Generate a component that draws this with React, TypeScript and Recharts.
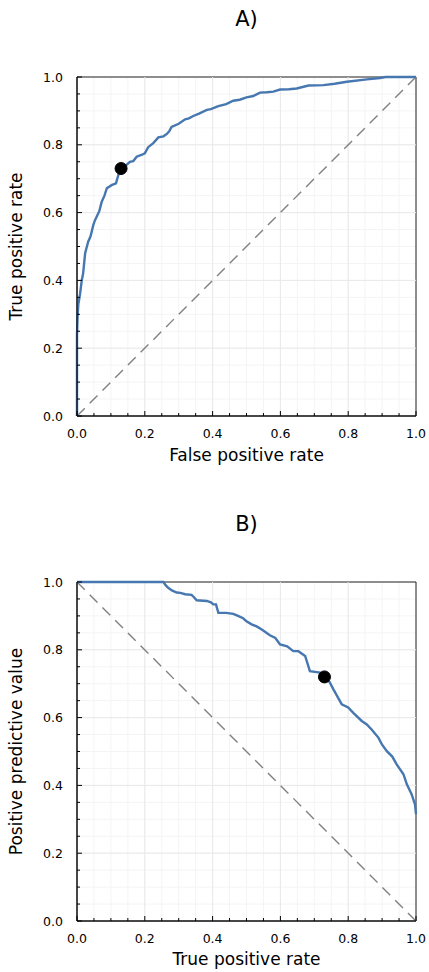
import {
  LineChart,
  Line,
  XAxis,
  YAxis,
  CartesianGrid,
  ReferenceLine,
  ReferenceDot,
  ReferenceArea,
} from 'recharts';

// ROC curve (panel A)
const rocFpr = [0, 0, 0.002, 0.004, 0.009, 0.014, 0.018, 0.024, 0.033, 0.04, 0.048, 0.052, 0.058, 0.066, 0.073, 0.081, 0.088, 0.102, 0.115, 0.122, 0.132, 0.145, 0.156, 0.166, 0.176, 0.19, 0.2, 0.21, 0.225, 0.24, 0.255, 0.265, 0.272, 0.279, 0.3, 0.319, 0.33, 0.343, 0.36, 0.383, 0.395, 0.417, 0.44, 0.461, 0.48, 0.5, 0.52, 0.54, 0.56, 0.579, 0.599, 0.625, 0.648, 0.683, 0.727, 0.76, 0.796, 0.855, 0.894, 0.91, 1.0];
const rocTpr = [0, 0.24, 0.3, 0.33, 0.36, 0.4, 0.42, 0.48, 0.514, 0.53, 0.563, 0.575, 0.588, 0.605, 0.632, 0.65, 0.672, 0.681, 0.686, 0.711, 0.728, 0.74, 0.75, 0.752, 0.765, 0.77, 0.775, 0.793, 0.805, 0.822, 0.825, 0.832, 0.84, 0.853, 0.862, 0.875, 0.878, 0.885, 0.892, 0.903, 0.905, 0.914, 0.92, 0.93, 0.933, 0.94, 0.944, 0.954, 0.955, 0.957, 0.963, 0.964, 0.966, 0.975, 0.976, 0.98, 0.986, 0.993, 0.997, 1.0, 1.0];

// precision-recall curve (panel B)
const prRecall = [0, 0.255, 0.262, 0.269, 0.28, 0.294, 0.305, 0.319, 0.338, 0.345, 0.353, 0.383, 0.395, 0.402, 0.41, 0.417, 0.44, 0.461, 0.475, 0.49, 0.5, 0.515, 0.53, 0.545, 0.569, 0.585, 0.599, 0.62, 0.638, 0.653, 0.673, 0.687, 0.717, 0.732, 0.745, 0.756, 0.781, 0.8, 0.815, 0.84, 0.855, 0.869, 0.889, 0.9, 0.914, 0.93, 0.943, 0.963, 0.973, 0.987, 0.997, 1.0];
const prPrecision = [1, 1, 0.99, 0.983, 0.975, 0.969, 0.968, 0.964, 0.962, 0.955, 0.946, 0.944, 0.94, 0.934, 0.934, 0.909, 0.909, 0.906, 0.9, 0.893, 0.884, 0.875, 0.869, 0.86, 0.843, 0.835, 0.816, 0.81, 0.796, 0.796, 0.782, 0.737, 0.733, 0.718, 0.705, 0.684, 0.639, 0.63, 0.614, 0.59, 0.58, 0.565, 0.541, 0.52, 0.501, 0.485, 0.462, 0.433, 0.403, 0.374, 0.344, 0.315];

// chosen operating points
const rocPoint = { x: 0.13, y: 0.73 };
const prPoint = { x: 0.73, y: 0.72 };

const allTicks = [0, 0.05, 0.1, 0.15, 0.2, 0.25, 0.3, 0.35, 0.4, 0.45, 0.5, 0.55, 0.6, 0.65, 0.7, 0.75, 0.8, 0.85, 0.9, 0.95, 1.0];
const majorGrid = [0.2, 0.4, 0.6, 0.8];

const FONT = '"DejaVu Sans", sans-serif';
const LINE_COLOR = '#4677b0';
const X_GAP = 13;
const Y_GAP = 14;

const isMajor = (v: number) => Math.abs(v * 5 - Math.round(v * 5)) < 1e-6;

function XTick(props: any) {
  const { x, y, payload } = props;
  const v = payload.value;
  const major = isMajor(v);
  const axisY = y - X_GAP;
  return (
    <g>
      <line x1={x} x2={x} y1={axisY} y2={axisY - (major ? 5 : 3)} stroke="#000" />
      {major && (
        <text x={x} y={y} dy="0.71em" textAnchor="middle" fontSize={12.5} fill="#000" fontFamily={FONT}>
          {v.toFixed(1)}
        </text>
      )}
    </g>
  );
}

function YTick(props: any) {
  const { x, y, payload } = props;
  const v = payload.value;
  const major = isMajor(v);
  const axisX = x + Y_GAP;
  return (
    <g>
      <line x1={axisX} x2={axisX + (major ? 5 : 3)} y1={y} y2={y} stroke="#000" />
      {major && (
        <text x={x} y={y} dy="0.36em" textAnchor="end" fontSize={12.5} fill="#000" fontFamily={FONT}>
          {v.toFixed(1)}
        </text>
      )}
    </g>
  );
}

type PanelProps = {
  title: string;
  xs: number[];
  ys: number[];
  point: { x: number; y: number };
  diag: { x: number; y: number }[];
  xLabel: string;
  yLabel: string;
  height: number;
  xAxisHeight: number;
  labelOffset: number;
};

function Panel({ title, xs, ys, point, diag, xLabel, yLabel, height, xAxisHeight, labelOffset }: PanelProps) {
  const data = xs.map((x, i) => ({ x, y: ys[i] }));
  return (
    <div style={{ position: 'relative', width: 429, height }}>
      <div
        style={{
          position: 'absolute',
          top: 9,
          left: 77,
          width: 339,
          textAlign: 'center',
          fontSize: 21,
          lineHeight: '21px',
          fontFamily: FONT,
          color: '#000',
        }}
      >
        {title}
      </div>
      <LineChart width={429} height={height} data={data} margin={{ top: 77, right: 13, left: 0, bottom: 0 }}>
        <CartesianGrid stroke="#f4f4f4" />
        {majorGrid.map((v) => (
          <ReferenceLine key={'gx' + v} x={v} stroke="#e9e9e9" />
        ))}
        {majorGrid.map((v) => (
          <ReferenceLine key={'gy' + v} y={v} stroke="#e9e9e9" />
        ))}
        <XAxis
          type="number"
          dataKey="x"
          domain={[0, 1]}
          ticks={allTicks}
          interval={0}
          tickSize={0}
          tickMargin={X_GAP}
          tickLine={false}
          tick={<XTick />}
          height={xAxisHeight}
          axisLine={{ stroke: '#000' }}
          label={{
            value: xLabel,
            position: 'insideBottom',
            offset: labelOffset,
            style: { fontSize: 17, fill: '#000', fontFamily: FONT },
          }}
        />
        <YAxis
          type="number"
          domain={[0, 1]}
          ticks={allTicks}
          interval={0}
          tickSize={0}
          tickMargin={Y_GAP}
          tickLine={false}
          tick={<YTick />}
          width={77}
          axisLine={{ stroke: '#000' }}
          label={{
            value: yLabel,
            angle: -90,
            position: 'insideLeft',
            offset: 16,
            style: { fontSize: 17, fill: '#000', fontFamily: FONT, textAnchor: 'middle' },
          }}
        />
        <ReferenceArea x1={0} x2={1} y1={0} y2={1} fill="none" stroke="#222" />
        <ReferenceLine segment={diag} stroke="#808080" strokeWidth={1.4} strokeDasharray="11 7" />
        <Line
          type="linear"
          dataKey="y"
          stroke={LINE_COLOR}
          strokeWidth={2.4}
          dot={false}
          activeDot={false}
          isAnimationActive={false}
        />
        <ReferenceDot x={point.x} y={point.y} r={6} fill="#000" stroke="#000" />
      </LineChart>
    </div>
  );
}

export default function App() {
  return (
    <div style={{ position: 'absolute', left: 0, top: 0, width: 429, height: 972, background: '#fff', fontFamily: FONT }}>
      <Panel
        title="A)"
        xs={rocFpr}
        ys={rocTpr}
        point={rocPoint}
        diag={[{ x: 0, y: 0 }, { x: 1, y: 1 }]}
        xLabel="False positive rate"
        yLabel="True positive rate"
        height={505}
        xAxisHeight={89}
        labelOffset={44}
      />
      <Panel
        title="B)"
        xs={prRecall}
        ys={prPrecision}
        point={prPoint}
        diag={[{ x: 0, y: 1 }, { x: 1, y: 0 }]}
        xLabel="True positive rate"
        yLabel="Positive predictive value"
        height={467}
        xAxisHeight={51}
        labelOffset={7}
      />
    </div>
  );
}
